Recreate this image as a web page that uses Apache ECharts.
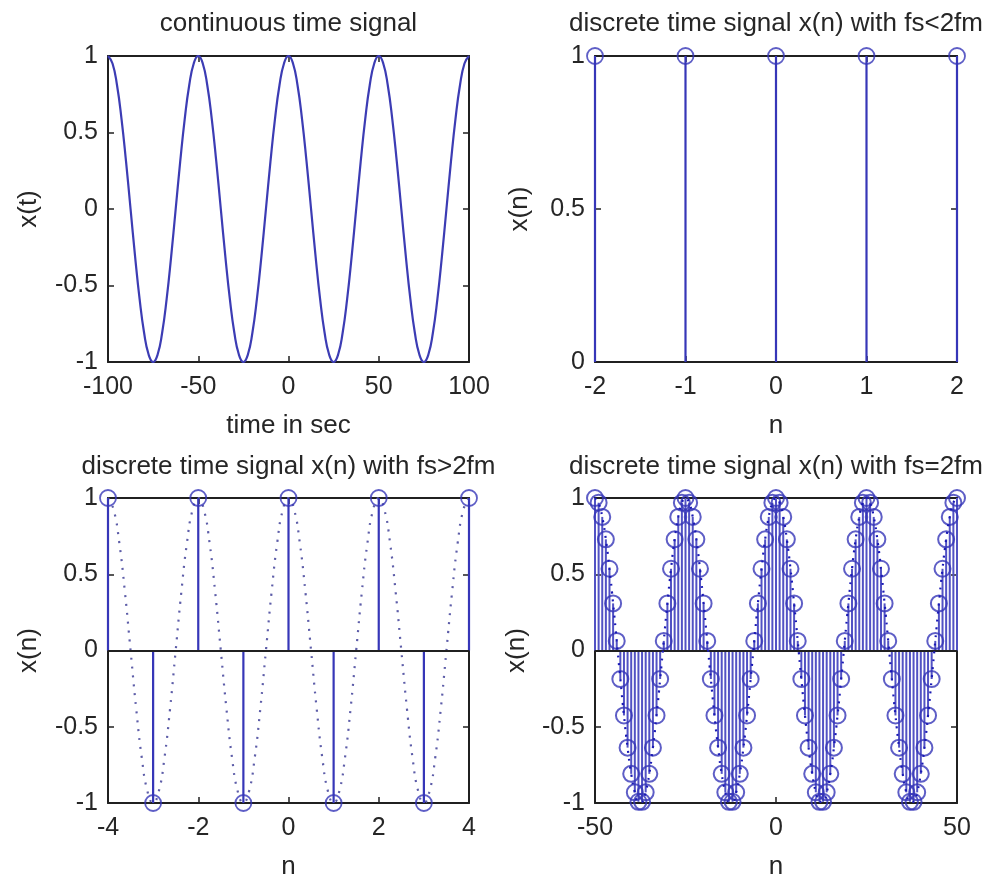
<!DOCTYPE html>
<html>
<head>
<meta charset="utf-8">
<script src="https://cdn.jsdelivr.net/npm/echarts@6/dist/echarts.min.js"></script>
<style>
  html, body { margin: 0; padding: 0; background: #ffffff; }
  #chart { width: 983px; height: 881px; }
</style>
</head>
<body>
<div id="chart"></div>
<script>
// ---- continuous time signal x(t), sampled finely for the smooth trace ----
const tSec = [-100,-97.5,-95,-92.5,-90,-87.5,-85,-82.5,-80,-77.5,-75,-72.5,-70,-67.5,-65,-62.5,-60,-57.5,-55,-52.5,
  -50,-47.5,-45,-42.5,-40,-37.5,-35,-32.5,-30,-27.5,-25,-22.5,-20,-17.5,-15,-12.5,-10,-7.5,-5,-2.5,
  0,2.5,5,7.5,10,12.5,15,17.5,20,22.5,25,27.5,30,32.5,35,37.5,40,42.5,45,47.5,
  50,52.5,55,57.5,60,62.5,65,67.5,70,72.5,75,77.5,80,82.5,85,87.5,90,92.5,95,97.5,100];
const xt = [1,0.951,0.809,0.588,0.309,0,-0.309,-0.588,-0.809,-0.951,-1,-0.951,-0.809,-0.588,-0.309,0,0.309,0.588,0.809,0.951,
  1,0.951,0.809,0.588,0.309,0,-0.309,-0.588,-0.809,-0.951,-1,-0.951,-0.809,-0.588,-0.309,0,0.309,0.588,0.809,0.951,
  1,0.951,0.809,0.588,0.309,0,-0.309,-0.588,-0.809,-0.951,-1,-0.951,-0.809,-0.588,-0.309,0,0.309,0.588,0.809,0.951,
  1,0.951,0.809,0.588,0.309,0,-0.309,-0.588,-0.809,-0.951,-1,-0.951,-0.809,-0.588,-0.309,0,0.309,0.588,0.809,0.951,
  1];

// ---- fs < 2fm ----
const nLow = [-2,-1,0,1,2];
const xLow = [1,1,1,1,1];

// ---- fs > 2fm: samples plus the underlying continuous cosine (dotted) ----
const nHigh = [-4,-3,-2,-1,0,1,2,3,4];
const xHigh = [1,-1,1,-1,1,-1,1,-1,1];
const tHigh = [-4,-3.875,-3.75,-3.625,-3.5,-3.375,-3.25,-3.125,-3,-2.875,-2.75,-2.625,-2.5,-2.375,-2.25,-2.125,
  -2,-1.875,-1.75,-1.625,-1.5,-1.375,-1.25,-1.125,-1,-0.875,-0.75,-0.625,-0.5,-0.375,-0.25,-0.125,
  0,0.125,0.25,0.375,0.5,0.625,0.75,0.875,1,1.125,1.25,1.375,1.5,1.625,1.75,1.875,
  2,2.125,2.25,2.375,2.5,2.625,2.75,2.875,3,3.125,3.25,3.375,3.5,3.625,3.75,3.875,4];
const xtHigh = [1,0.924,0.707,0.383,0,-0.383,-0.707,-0.924,-1,-0.924,-0.707,-0.383,0,0.383,0.707,0.924,
  1,0.924,0.707,0.383,0,-0.383,-0.707,-0.924,-1,-0.924,-0.707,-0.383,0,0.383,0.707,0.924,
  1,0.924,0.707,0.383,0,-0.383,-0.707,-0.924,-1,-0.924,-0.707,-0.383,0,0.383,0.707,0.924,
  1,0.924,0.707,0.383,0,-0.383,-0.707,-0.924,-1,-0.924,-0.707,-0.383,0,0.383,0.707,0.924,
  1];

// ---- fs = 2fm ----
const nEq = [-50,-49,-48,-47,-46,-45,-44,-43,-42,-41,-40,-39,-38,-37,-36,-35,-34,-33,-32,-31,-30,-29,-28,-27,-26,
  -25,-24,-23,-22,-21,-20,-19,-18,-17,-16,-15,-14,-13,-12,-11,-10,-9,-8,-7,-6,-5,-4,-3,-2,-1,
  0,1,2,3,4,5,6,7,8,9,10,11,12,13,14,15,16,17,18,19,20,21,22,23,24,
  25,26,27,28,29,30,31,32,33,34,35,36,37,38,39,40,41,42,43,44,45,46,47,48,49,50];
const xEq = [1,0.969,0.876,0.729,0.536,0.309,0.063,-0.187,-0.426,-0.637,-0.809,-0.930,-0.992,-0.992,-0.930,-0.809,-0.637,-0.426,-0.187,0.063,0.309,0.536,0.729,0.876,0.969,
  1,0.969,0.876,0.729,0.536,0.309,0.063,-0.187,-0.426,-0.637,-0.809,-0.930,-0.992,-0.992,-0.930,-0.809,-0.637,-0.426,-0.187,0.063,0.309,0.536,0.729,0.876,0.969,
  1,0.969,0.876,0.729,0.536,0.309,0.063,-0.187,-0.426,-0.637,-0.809,-0.930,-0.992,-0.992,-0.930,-0.809,-0.637,-0.426,-0.187,0.063,0.309,0.536,0.729,0.876,0.969,
  1,0.969,0.876,0.729,0.536,0.309,0.063,-0.187,-0.426,-0.637,-0.809,-0.930,-0.992,-0.992,-0.930,-0.809,-0.637,-0.426,-0.187,0.063,0.309,0.536,0.729,0.876,0.969,
  1];

const FONT = '"Liberation Sans", Arial, Helvetica, sans-serif';
const INK = '#262626';
const FRAME = '#202020';
const BLUE = '#3636b8';

const panels = [
  { title: 'continuous time signal', grid: { left: 108, top: 56, width: 361, height: 306 },
    x: { min: -100, max: 100, interval: 50 }, y: { min: -1, max: 1, interval: 0.5 },
    xName: 'time in sec', yName: 'x(t)', xGap: 51, yGap: 66, titleTop: 11 },
  { title: 'discrete time signal x(n) with fs<2fm', grid: { left: 595, top: 56, width: 362, height: 306 },
    x: { min: -2, max: 2, interval: 1 }, y: { min: 0, max: 1, interval: 0.5 },
    xName: 'n', yName: 'x(n)', xGap: 51, yGap: 62, titleTop: 11 },
  { title: 'discrete time signal x(n) with fs>2fm', grid: { left: 108, top: 498, width: 361, height: 309 },
    x: { min: -4, max: 4, interval: 2 }, y: { min: -1, max: 1, interval: 0.5 },
    xName: 'n', yName: 'x(n)', xGap: 51, yGap: 66, titleTop: 454 },
  { title: 'discrete time signal x(n) with fs=2fm', grid: { left: 595, top: 498, width: 362, height: 308 },
    x: { min: -50, max: 50, interval: 50 }, y: { min: -1, max: 1, interval: 0.5 },
    xName: 'n', yName: 'x(n)', xGap: 51, yGap: 65, titleTop: 454 }
];

const nameStyle = { fontFamily: FONT, fontSize: 26, color: INK };
const labelStyle = { fontFamily: FONT, fontSize: 25, color: INK };

function axisPair(kind, p, i) {
  const range = kind === 'x' ? p.x : p.y;
  const common = {
    type: 'value', gridIndex: i, min: range.min, max: range.max, interval: range.interval,
    axisLine: { show: true, onZero: false, lineStyle: { color: FRAME, width: 2 } },
    axisTick: { show: true, inside: true, length: 6, lineStyle: { color: FRAME, width: 1.5 } },
    splitLine: { show: false }
  };
  const main = Object.assign({}, common, {
    position: kind === 'x' ? 'bottom' : 'left',
    name: kind === 'x' ? p.xName : p.yName,
    nameLocation: 'middle',
    nameGap: kind === 'x' ? p.xGap : p.yGap,
    nameTextStyle: nameStyle,
    axisLabel: Object.assign({ margin: kind === 'x' ? 13 : 10 }, labelStyle)
  });
  const mirror = Object.assign({}, common, {
    position: kind === 'x' ? 'top' : 'right',
    axisLabel: { show: false }
  });
  return [main, mirror];
}

const xAxes = [], yAxes = [];
panels.forEach((p, i) => {
  xAxes.push(...axisPair('x', p, i));
  yAxes.push(...axisPair('y', p, i));
});

function pairs(xs, ys) { return xs.map((v, k) => [v, ys[k]]); }

// vertical stems from the zero baseline up to each sample
function stems(i, xs, ys, color, width) {
  return {
    type: 'custom', xAxisIndex: 2 * i, yAxisIndex: 2 * i, z: 3,
    data: pairs(xs, ys), encode: { x: 0, y: 1 },
    renderItem: function (params, api) {
      const a = api.coord([api.value(0), 0]);
      const b = api.coord([api.value(0), api.value(1)]);
      return { type: 'line', shape: { x1: a[0], y1: a[1], x2: b[0], y2: b[1] },
               style: { stroke: color, lineWidth: width } };
    }
  };
}

// open circle markers at the stem heads
function heads(i, xs, ys, withBaseline, size, border) {
  const s = {
    type: 'scatter', xAxisIndex: 2 * i, yAxisIndex: 2 * i, z: 4, clip: false,
    data: pairs(xs, ys), symbol: 'circle', symbolSize: size,
    itemStyle: { color: 'rgba(0,0,0,0)', borderColor: BLUE, borderWidth: border },
    emphasis: { disabled: true }
  };
  if (withBaseline) {
    s.markLine = { silent: true, symbol: 'none', label: { show: false },
      lineStyle: { color: FRAME, width: 2, type: 'solid' }, data: [{ yAxis: 0 }] };
  }
  return s;
}

const series = [
  { type: 'line', xAxisIndex: 0, yAxisIndex: 0, data: pairs(tSec, xt), smooth: true,
    showSymbol: false, lineStyle: { color: '#3c3cb4', width: 2.2 } },

  stems(1, nLow, xLow, BLUE, 2.2),
  heads(1, nLow, xLow, false, 16, 1.8),

  { type: 'line', xAxisIndex: 4, yAxisIndex: 4, data: pairs(tHigh, xtHigh), smooth: true,
    showSymbol: false, z: 2, lineStyle: { color: '#5d5da8', width: 2.2, type: [2, 7] } },
  stems(2, nHigh, xHigh, BLUE, 2.2),
  heads(2, nHigh, xHigh, true, 16, 1.8),

  { type: 'line', xAxisIndex: 6, yAxisIndex: 6, data: pairs(nEq, xEq), smooth: true,
    showSymbol: false, z: 5, lineStyle: { color: '#1a1ab4', width: 2.2, type: [2, 6] } },
  stems(3, nEq, xEq, '#5252c4', 2),
  heads(3, nEq, xEq, true, 16, 2)
];

const chart = echarts.init(document.getElementById('chart'), null, { renderer: 'canvas' });
chart.setOption({
  backgroundColor: '#ffffff',
  animation: false,
  title: panels.map(p => ({
    text: p.title, left: p.grid.left + p.grid.width / 2, top: p.titleTop, textAlign: 'center', padding: 0,
    textStyle: { fontFamily: FONT, fontSize: 26, fontWeight: 'normal', color: INK }
  })),
  grid: panels.map(p => Object.assign({ containLabel: false }, p.grid)),
  xAxis: xAxes,
  yAxis: yAxes,
  series: series
});
</script>
</body>
</html>
